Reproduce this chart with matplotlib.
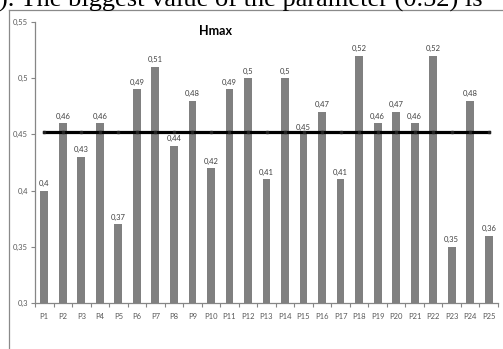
import matplotlib
matplotlib.use("Agg")
import matplotlib.pyplot as plt
from matplotlib.lines import Line2D
import numpy as np

# Data
categories = [f"P{i}" for i in range(1, 26)]
hmax_values = [0.40, 0.46, 0.43, 0.46, 0.37, 0.49, 0.51, 0.44, 0.48, 0.42,
               0.49, 0.50, 0.41, 0.50, 0.45, 0.47, 0.41, 0.52, 0.46, 0.47,
               0.46, 0.52, 0.35, 0.48, 0.36]
hmax_mean = 0.4524
y_ticks = [0.30, 0.35, 0.40, 0.45, 0.50, 0.55]

W, H = 503, 349
fig = plt.figure(figsize=(W / 100, H / 100), dpi=100)
fig.patch.set_facecolor("white")

def fx(px):
    return px / W

def fy(py):
    return 1 - py / H

# Running text line above the chart (partly cut at the top edge)
fig.text(fx(-1), fy(6.5), "). The biggest value of the parameter (0.52) is",
         family="Liberation Serif", fontsize=19, color="black",
         ha="left", va="baseline")

# Chart frame (top and left edges visible)
frame_color = "#8a8a8a"
fig.add_artist(Line2D([fx(9), 1.01], [fy(10), fy(10)], color=frame_color,
                      lw=0.9, transform=fig.transFigure))
fig.add_artist(Line2D([fx(9), fx(9)], [fy(10), -0.01], color=frame_color,
                      lw=0.9, transform=fig.transFigure))

# Plot area
ax = fig.add_axes([fx(35), fy(303), fx(498) - fx(35), fy(22) - fy(303)])
x = np.arange(len(categories))
ax.bar(x, hmax_values, width=0.42, color="#808080", zorder=2)
ax.plot(x, [hmax_mean] * len(x), color="black", lw=2.3, zorder=3,
        marker="s", markersize=1.6, markerfacecolor="#222222",
        markeredgecolor="#222222")

label_color = "#404040"
for xi, v in zip(x, hmax_values):
    ax.annotate(f"{v:g}".replace(".", ","), (xi, v), xytext=(0, 2.5),
                textcoords="offset points", ha="center", va="bottom",
                family="Lato", fontsize=5.5, color=label_color)

ax.set_xlim(-0.5, len(categories) - 0.5)
ax.set_ylim(0.3, 0.55)
ax.set_yticks(y_ticks)
ax.set_yticklabels([f"{t:g}".replace(".", ",") for t in y_ticks])
ax.set_xticks(x)
ax.set_xticklabels(categories)
ax.set_xticks(np.arange(-0.5, len(categories)), minor=True)

axis_color = "#868686"
for side in ["top", "right"]:
    ax.spines[side].set_visible(False)
for side in ["left", "bottom"]:
    ax.spines[side].set_color(axis_color)
    ax.spines[side].set_linewidth(0.9)

ax.tick_params(axis="y", direction="out", length=3, width=0.8,
               color=axis_color, labelsize=5.5, labelcolor="#595959", pad=2)
ax.tick_params(axis="x", which="major", length=0, labelsize=5.5,
               labelcolor="#595959", pad=7)
ax.tick_params(axis="x", which="minor", direction="out", length=3,
               width=0.8, color=axis_color)
for lbl in ax.get_xticklabels() + ax.get_yticklabels():
    lbl.set_family("Lato")

# Chart title
fig.text(fx(216), fy(31), "Hmax", family="Lato", fontweight="bold",
         fontsize=9, color="black", ha="center", va="center")

fig.savefig("out.png", dpi=100, facecolor="white")
